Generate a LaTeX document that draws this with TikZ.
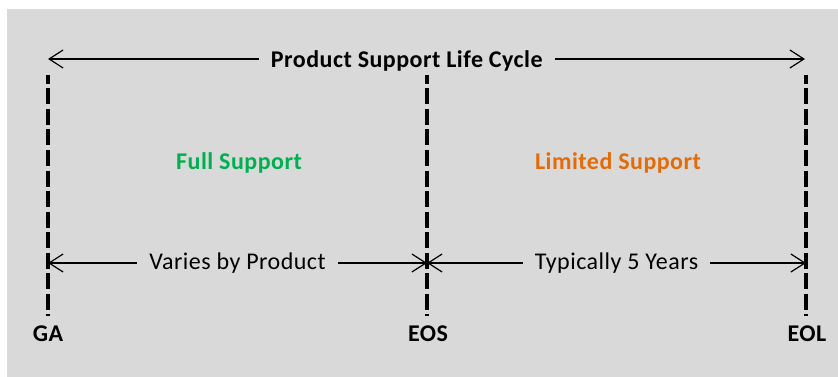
\documentclass[tikz,border=0pt]{standalone}
\usepackage{fontspec}
\setmainfont{Carlito}[LetterSpace=2]
\usetikzlibrary{positioning}
\usetikzlibrary{arrows.meta}
\definecolor{bggray}{RGB}{217,217,217}
\definecolor{fullgreen}{RGB}{0,176,80}
\definecolor{limorange}{RGB}{227,108,9}
\tikzstyle{milestone} = [font=\bfseries\fontsize{24}{28}\selectfont,inner sep=0pt]
\tikzstyle{phase} = [font=\bfseries\fontsize{24}{28}\selectfont]
\tikzstyle{span} = [midway,fill=bggray,inner xsep=12pt,font=\fontsize{24}{28}\selectfont]
\tikzstyle{cut} = [line width=4.3pt,dash pattern=on 16pt off 4.5pt,dash phase=7pt]
\tikzset{>={Straight Barb[length=14pt,width=18pt]}}

\begin{document}
\begin{tikzpicture}[x=1pt,y=-1pt,line width=1.2pt]
  \fill [bggray] (7,9) rectangle (838,377);
  \useasboundingbox (0,0) rectangle (838,377);

  % milestones
  \node [milestone] (ga) at (48,334) {GA};
  \node [milestone] (eos) at (428,334) {EOS};
  \node [milestone] (eol) at (807,334) {EOL};

  \coordinate (gatop) at (48,75);
  \coordinate (eostop) at (427,75);
  \coordinate (eoltop) at (806,75);
  \coordinate (gabot) at (48,316);
  \coordinate (eosbot) at (427,316);
  \coordinate (eolbot) at (806,316);

  \draw [cut] (gatop) -- (gabot);
  \draw [cut] (eostop) -- (eosbot);
  \draw [cut] (eoltop) -- (eolbot);

  % whole life cycle
  \coordinate (lcl) at (48,59);
  \coordinate (lcr) at (805,59);
  \draw [<->] (lcl) -- (lcr) node [span,pos=0.474,yshift=-1.5pt,font=\bfseries\fontsize{24}{28}\selectfont] (lc) {Product Support Life Cycle};

  % phases
  \node [phase,text=fullgreen] (full) at (239,163) {Full Support};
  \node [phase,text=limorange] (limited) at (618,163) {Limited Support};

  \coordinate (gamid) at (48,263);
  \coordinate (eosmid) at (427,263);
  \coordinate (eolmid) at (806,263);
  \draw [<->] (gamid) -- (eosmid) node [span] (varies) {Varies by Product};
  \draw [<->] (eosmid) -- (eolmid) node [span] (typ) {Typically 5 Years};

\end{tikzpicture}
\end{document}
